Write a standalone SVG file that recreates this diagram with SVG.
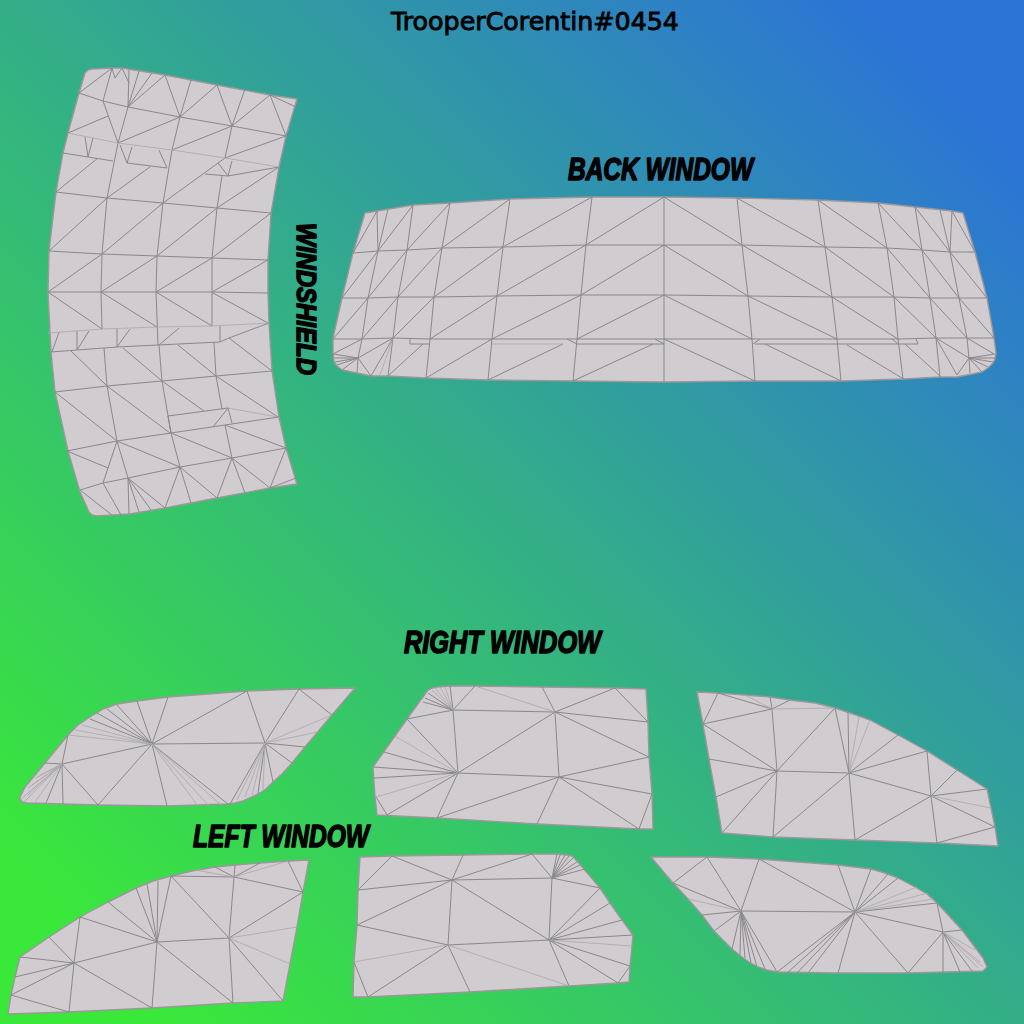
<svg xmlns="http://www.w3.org/2000/svg" width="1024" height="1024" viewBox="0 0 1024 1024">
<style>
.p{fill:#d0ccd0;stroke:#9b979b;stroke-width:1.4;stroke-linejoin:round}
.m{fill:none;stroke:#8a888c;stroke-width:1}
.f{fill:none;stroke:#aaa8ac;stroke-width:.8}
.l{font-family:"Liberation Sans",Arial,sans-serif;font-weight:bold;font-style:italic;font-size:32px;fill:#000;stroke:#000;stroke-width:1.6;stroke-linejoin:round}
.t{font-family:"DejaVu Sans",sans-serif;font-size:25px;fill:#000;stroke:#000;stroke-width:.9}
</style>
<defs><linearGradient id="bg" gradientUnits="userSpaceOnUse" x1="0" y1="1024" x2="1024" y2="0"><stop offset="0" stop-color="#3ae83a"/><stop offset=".08" stop-color="#3ae83a"/><stop offset=".92" stop-color="#2c74d6"/><stop offset="1" stop-color="#2c74d6"/></linearGradient></defs>
<rect width="1024" height="1024" fill="url(#bg)"/>
<g id="windshield">
<polygon class="p" points="92,69 112,68 122,68 165,75 217,85 270,95 297,99 286,136 279,167 271,213 268,260 268,293 269,323 272,371 279,417 286,448 297,484 270,488 217,498 165,508 130,514 97,516 92,515 89,512 80,492 68,451 55,392 51,352 48,292 49,251 56,192 63,153 68,133 79,93 85,73 88,70"/>
<path class="m" d="M79 93L103 101 128 107 180 117 232 126 286 136M63 153L113 161M127 163L167 168M205 174L228 176 279 167M56 192L107 198 163 203 217 208 271 213M49 251L102 254 157 256 212 258 268 260M48 292L101 292 156 292 212 292 268 293M103 101L112 68M79 93L112 68M112 68L115 78 122 68 129 83M129 70L128 107M139 71L128 107M152 73L128 107M165 75L128 107M165 75L180 117M191 80L180 117M217 85L180 117M217 85L232 126M245 89L232 126M270 95L232 126M270 95L286 136M270 95L296 107M103 101L118 143M128 107L118 143M108 116L68 133M180 117L118 143M180 117L172 150M232 126L172 150M232 126L225 158M286 136L225 158M85 137L88 157 93 138M98 158L56 192M118 143L107 198M120 145L127 163 132 147M159 150L167 168M150 167L107 198M172 150L163 203M218 163L228 176 232 161M163 203L225 158M222 176L217 208M279 167L217 208M107 198L102 254M163 203L157 256M217 208L212 258M107 198L49 251M163 203L102 254M217 208L157 256M271 213L212 258M102 254L48 292M157 256L101 292M212 258L156 292M268 260L212 292M102 254L101 292M157 256L156 292M212 258L212 292M48 292L102 329M101 292L157 327M156 292L212 326M213 293L268 323M101 292L102 329M156 292L158 345M212 292L212 326M51 352L77 350 117 347 158 345 220 342 229 338 269 323M59 332L52 352M77 331L77 350M89 331L77 350M117 329L117 347M130 329L117 347M179 328L159 345M220 326L220 342M71 351L107 386M104 348L107 386M123 348L162 381M159 345L162 381M178 345L216 376M214 342L216 376M229 338L272 371M55 392L107 386 162 381 216 376 272 371M55 392L117 441M107 386L117 441M107 386L170 433M162 381L171 433M162 381L204 411M216 376L222 409M216 376L278 417M168 416L228 408 232 423M213 427L228 408M67 451L117 441 171 433 225 425 279 417M67 451L108 468M117 441L103 483M117 441L128 478M117 441L180 467M171 433L180 467M171 433L232 458M225 425L232 458M225 425L286 448M80 490L103 483 128 478 180 467 232 458 286 448M80 490L112 515M103 483L121 515M128 478L129 514M128 478L139 512M128 478L151 510M128 478L165 508M180 467L165 508M180 467L191 503M180 467L217 498M232 458L217 498M232 458L245 493M232 458L270 488M286 448L270 488M270 488L296 478M168 416L171 433"/>
<path class="f" d="M68 133L118 143 172 150 225 158 279 167M48 333L102 329 157 327 212 326 269 323M228 408L278 417"/>
</g>
<g id="back-window">
<polygon class="p" points="365,213 377,211 413,205 450,203 510,199 592,197 664,197 737,198 818,200 878,203 915,207 952,211 963,213 975,252 987,298 994,338 996,353 995,359 993,363 988,368 982,372 957,377 940,377 903,379 841,381 755,381 664,382 573,381 488,380 426,378 388,376 371,376 357,373 342,370 337,366 334,362 333,353 333,338 342,298 353,253"/>
<path class="m" d="M353 253L378 251 407 250 442 248 503 247 586 245 664 245 742 245 825 247 887 248 922 250 950 252 975 252M342 298L368 298 398 297 434 297 497 296 581 295 664 295 748 296 832 297 894 297 930 298 959 298 987 298M333 339L362 339 393 338 430 339 492 339 577 339 664 339 752 339 837 339 898 339 936 338 967 338 994 338M410 339L410 344 430 344M577 344L664 344M567 339L577 344M655 339L664 344M760 339L753 344M916 339L918 344 755 344M892 339L898 344M377 211L378 251M388 209L378 251M413 205L407 250M450 203L442 248M510 199L503 247M592 197L586 245M664 197L664 382M377 211L353 253M413 205L378 251M450 203L407 250M510 199L442 248M592 197L503 247M664 197L586 245M378 251L368 298M407 250L398 297M442 248L434 297M503 247L497 296M586 245L581 295M378 251L342 298M407 250L368 298M442 248L398 297M503 247L434 297M586 245L497 296M664 245L581 295M368 298L362 339M398 297L393 338M434 297L430 339M497 296L492 339M581 295L577 339M368 298L333 339M398 297L362 339M434 297L393 338M497 296L430 339M581 295L492 339M664 295L577 339M362 339L358 358M393 338L358 358M362 339L333 354M358 358L333 354M358 358L334 358M358 358L335 362M358 358L337 365M358 358L342 370M358 358L357 373M358 358L371 376M393 338L371 376M393 338L388 376M423 344L388 376M430 339L426 378M492 339L488 380M492 339L426 378M563 344L488 380M577 339L573 381M653 344L573 381M664 197L742 245M737 198L825 247M818 200L887 248M878 203L922 250M915 207L950 252M952 211L975 252M737 198L742 245M818 200L825 247M878 203L887 248M915 207L922 250M940 210L950 252M952 211L950 252M742 245L748 296M825 247L832 297M887 248L894 297M922 250L930 298M950 252L959 298M664 245L748 296M742 245L832 297M825 247L894 297M887 248L930 298M922 250L959 298M950 252L987 298M748 296L752 339M832 297L837 339M894 297L898 339M930 298L936 338M959 298L967 338M664 295L752 339M748 296L837 339M832 297L898 339M894 297L936 338M930 298L967 338M959 298L994 338M752 339L755 381M837 339L841 381M898 339L903 379M936 338L940 377M664 339L755 381M765 344L841 381M847 345L902 378M905 344L940 376M936 338L957 375M936 338L969 358M967 338L969 358M967 338L994 354M969 358L995 354M969 358L996 358M969 358L993 362M969 358L988 367M969 358L982 372M969 358L970 373M969 358L957 375"/>
<path class="f" d="M492 344L563 344M393 338L380 375"/>
</g>
<g id="right-window-1">
<polygon class="p" points="20,797 25,787 45,763 68,735 78,725 90,717 103,709 117,704 137,701 168,697 247,691 299,689 355,688 332,715 305,747 292,763 282,774 273,782 266,789 260,793 252,797 243,801 235,803 228,804 167,806 98,805 27,803 22,802 20,799"/>
<path class="m" d="M152 744L137 701M152 744L168 697M152 744L247 691M152 744L265 743M152 744L98 805M152 744L167 806M152 744L228 804M152 744L62 764M152 744L90 719M152 744L97 713M152 744L107 709M152 744L117 705M62 764L45 763M62 764L68 735M62 764L98 805M62 764L63 804M62 764L46 803M265 743L247 691M265 743L299 689M265 743L305 747M265 743L292 763M265 743L273 782M265 743L230 804M299 689L332 715M265 743L258 793"/>
<path class="f" d="M152 744L68 735M152 744L75 730M152 744L82 725M152 744L198 806M152 744L209 806M152 744L221 805M62 764L35 802M62 764L28 795M62 764L32 785M62 764L40 775M62 764L24 802M62 764L22 798M62 764L28 788M62 764L36 778M265 743L332 715M265 743L318 732M265 743L237 800M265 743L245 797M265 743L252 795M265 743L263 790"/>
</g>
<g id="right-window-2">
<polygon class="p" points="373,767 407,719 428,690 432,688 437,687 450,686 475,686 542,687 615,688 646,689 648,722 649,757 652,794 653,829 639,829 537,824 437,818 377,815 375,797"/>
<path class="m" d="M453 710L450 686M453 710L475 686M453 710L555 712M453 710L458 773M453 710L407 719M453 710L423 702M453 710L425 698M453 710L428 693M555 712L542 687M555 712L615 688M555 712L648 722M555 712L649 757M555 712L458 773M555 712L559 777M458 773L407 719M458 773L384 752M458 773L373 767M458 773L374 778M458 773L387 815M458 773L437 818M458 773L559 777M559 777L649 757M559 777L652 794M559 777L639 829M559 777L537 824M559 777L437 818M376 797L387 815M652 794L639 829M615 688L648 722"/>
<path class="f" d="M453 710L432 690M453 710L435 688M453 710L440 687M453 710L445 687M555 712L475 686M458 773L395 736M458 773L376 797"/>
</g>
<g id="right-window-3">
<polygon class="p" points="697,692 718,693 770,697 790,700 815,703 835,708 853,714 870,720 898,735 927,751 957,770 987,789 991,808 995,827 998,846 937,843 855,840 773,837 722,833 716,797 709,759 703,724"/>
<path class="m" d="M772 709L718 693M772 709L770 697M772 709L790 700M772 709L703 724M772 709L777 771M718 693L703 724M777 771L703 724M777 771L709 759M777 771L716 797M777 771L722 833M777 771L773 837M777 771L835 708M777 771L849 773M849 773L835 708M849 773L848 712M849 773L898 735M849 773L927 751M849 773L931 796M849 773L855 840M849 773L773 837M931 796L927 751M931 796L957 770M931 796L987 789M931 796L995 827M931 796L937 843M931 796L855 840M995 827L937 843"/>
<path class="f" d="M772 709L745 695M772 709L835 708M849 773L859 717M849 773L870 720M931 796L991 808"/>
</g>
<g id="left-window-1">
<polygon class="p" points="20,957 49,937 80,917 108,902 136,888 153,881 171,876 192,871 215,867 235,865 288,861 309,860 303,892 297,927 290,964 283,1001 233,1003 152,1008 69,1012 8,1014 11,995 15,977"/>
<path class="m" d="M74 963L20 957M74 963L15 977M74 963L11 995M74 963L49 937M74 963L80 917M74 963L157 942M74 963L69 1012M74 963L152 1008M11 995L69 1012M157 942L80 917M157 942L108 902M157 942L136 888M157 942L147 884M157 942L158 881M157 942L171 876M157 942L229 938M157 942L152 1008M157 942L233 1003M229 938L171 876M229 938L234 877M229 938L303 892M229 938L283 1001M229 938L233 1003M234 877L171 876M234 877L215 867M234 877L235 865M234 877L260 863M234 877L303 892M288 861L303 892"/>
<path class="f" d="M229 938L297 927M229 938L290 964M234 877L195 870M234 877L288 861"/>
</g>
<g id="left-window-2">
<polygon class="p" points="360,857 392,856 463,855 532,854 557,854 567,855 572,856 578,862 600,888 610,903 622,920 633,935 632,946 630,966 629,982 618,983 569,986 470,992 368,997 353,997 354,962 357,925 358,890"/>
<path class="m" d="M452 880L392 856M452 880L463 855M452 880L552 878M452 880L358 890M452 880L357 925M452 880L448 945M452 880L549 940M392 856L358 890M452 880L532 854M552 878L532 854M552 878L557 854M552 878L560 855M552 878L565 855M552 878L569 856M552 878L573 858M552 878L577 862M552 878L580 865M552 878L585 869M552 878L600 888M552 878L549 940M549 940L600 888M549 940L610 903M549 940L622 920M549 940L633 935M549 940L630 966M549 940L618 983M549 940L569 986M549 940L448 945M630 966L618 983M448 945L357 925M448 945L368 997M448 945L470 992M354 962L368 997"/>
<path class="f" d="M549 940L631 946M448 945L354 962M448 945L569 986"/>
</g>
<g id="left-window-3">
<polygon class="p" points="651,857 707,857 759,859 838,865 871,869 885,873 898,878 915,887 927,894 937,903 962,930 983,958 987,967 983,971 908,973 838,973 777,972 767,970 758,967 749,962 742,957 732,949 714,931 702,915 688,899 673,883"/>
<path class="m" d="M741 911L707 857M741 911L759 859M741 911L855 912M741 911L673 883M741 911L702 915M741 911L714 931M741 911L732 949M741 911L740 955M741 911L745 958M741 911L751 963M741 911L757 967M741 911L765 969M741 911L777 972M707 857L673 883M855 912L759 859M855 912L838 865M855 912L871 869M855 912L888 874M855 912L898 878M855 912L937 903M855 912L943 932M855 912L908 973M855 912L838 973M855 912L777 972M855 912L787 973M855 912L797 973M855 912L808 973M943 932L937 903M943 932L962 930M943 932L908 973M943 932L943 973M943 932L960 972M943 932L972 971"/>
<path class="f" d="M741 911L688 899M855 912L917 887M855 912L928 893M855 912L933 899M943 932L978 968M943 932L983 967M943 932L980 962M943 932L975 950"/>
</g>
<g id="labels">
<text class="t" x="391" y="30" textLength="288" lengthAdjust="spacingAndGlyphs">TrooperCorentin#0454</text>
<text class="l" x="568" y="180" textLength="185" lengthAdjust="spacingAndGlyphs">BACK WINDOW</text>
<text class="l" x="404" y="653" textLength="197" lengthAdjust="spacingAndGlyphs">RIGHT WINDOW</text>
<text class="l" x="193" y="847" textLength="176" lengthAdjust="spacingAndGlyphs">LEFT WINDOW</text>
<text class="l" style="font-size:28px" transform="translate(297 223) rotate(90)" textLength="152" lengthAdjust="spacingAndGlyphs">WINDSHIELD</text>
</g>
</svg>
